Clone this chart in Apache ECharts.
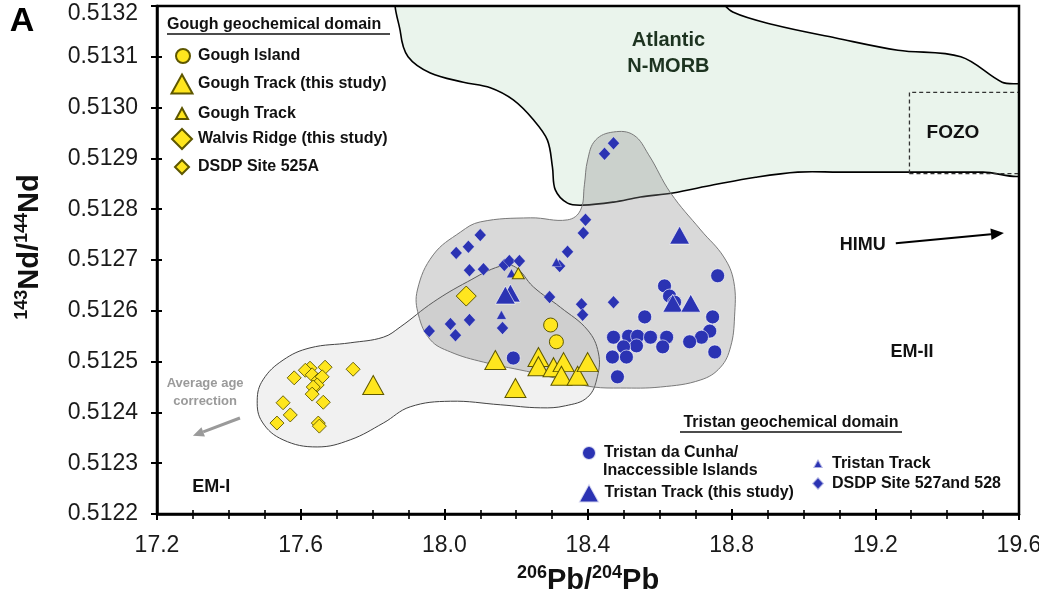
<!DOCTYPE html>
<html><head><meta charset="utf-8">
<script src="https://cdn.jsdelivr.net/npm/echarts@6/dist/echarts.min.js"></script>
<style>html,body{margin:0;padding:0;background:#fff}#c{width:1039px;height:604px}</style>
</head><body><div id="c"></div>
<script>
const FONT = "'Liberation Sans', Arial, Helvetica, sans-serif";

// ---------- data (206Pb/204Pb, 143Nd/144Nd) ----------
const goughIsland = [[18.296,0.512572],[18.312,0.512539]];
const goughTrackThisStudy = [[17.802,0.512454],[18.142,0.512503],[18.198,0.512448],[18.262,0.512509],[18.262,0.512491],
  [18.304,0.512489],[18.332,0.512499],[18.326,0.512472],[18.371,0.512472],[18.399,0.512499]];
const goughTrack = [[18.206,0.512674]];
const walvisRidgeThisStudy = [[18.061,0.512629]];
const dsdp525A = [[17.626,0.512487],[17.613,0.512483],[17.668,0.512489],[17.746,0.512485],[17.582,0.512468],
  [17.632,0.512474],[17.649,0.512464],[17.660,0.512470],[17.646,0.512454],[17.635,0.512450],[17.632,0.512436],
  [17.663,0.512420],[17.551,0.512419],[17.571,0.512395],[17.534,0.512379],[17.649,0.512379],[17.652,0.512373]];
const tristanIslands = [[18.761,0.512669],[18.613,0.512649],[18.627,0.512629],[18.641,0.512617],[18.558,0.512588],
  [18.747,0.512588],[18.739,0.512560],[18.716,0.512548],[18.683,0.512539],[18.753,0.512519],[18.471,0.512548],
  [18.513,0.512550],[18.538,0.512550],[18.535,0.512531],[18.499,0.512529],[18.468,0.512509],[18.507,0.512509],
  [18.574,0.512548],[18.619,0.512548],[18.608,0.512529],[18.482,0.512470],[18.192,0.512507]];
const tristanTrackThisStudy = [[18.655,0.512749],[18.636,0.512615],[18.686,0.512615],[18.184,0.512635],[18.170,0.512631]];
const tristanTrack = [[18.187,0.512674],[18.159,0.512592],[18.312,0.512696]];
const dsdp527528 = [[18.100,0.512749],[18.067,0.512726],[18.033,0.512714],[18.070,0.512680],[18.109,0.512682],
  [18.167,0.512690],[18.181,0.512698],[18.209,0.512698],[18.343,0.512716],[18.321,0.512688],[18.387,0.512753],
  [18.393,0.512779],[18.293,0.512627],[18.382,0.512613],[18.385,0.512592],[18.471,0.512617],[18.070,0.512582],
  [18.017,0.512574],[18.031,0.512552],[17.958,0.512560],[18.162,0.512566],[18.446,0.512909],[18.471,0.512930]];

// field outlines
const morbField = [[17.878,0.51322],[17.878,0.513147],[17.899,0.513100],[17.961,0.513068],[18.053,0.513050],
  [18.128,0.513039],[18.192,0.513015],[18.248,0.512976],[18.287,0.512936],[18.301,0.512883],[18.309,0.512838],
  [18.343,0.512812],[18.387,0.512808],[18.471,0.512814],[18.546,0.512824],[18.636,0.512832],[18.750,0.512848],
  [18.867,0.512863],[18.984,0.512873],[19.098,0.512873],[19.305,0.512873],[19.50,0.512873],[19.62,0.512873],
  [19.62,0.513039],[19.553,0.513050],[19.438,0.513100],[19.263,0.513113],[19.090,0.513137],[18.917,0.513163],
  [18.803,0.513188],[18.744,0.51322]];
const tristanField = [[18.471,0.512952],[18.527,0.512946],[18.569,0.512907],[18.630,0.512832],[18.714,0.512759],
  [18.778,0.512706],[18.806,0.512657],[18.808,0.512588],[18.797,0.512529],[18.769,0.512489],[18.714,0.512464],
  [18.602,0.512450],[18.491,0.512448],[18.415,0.512450],[18.351,0.512460],[18.248,0.512478],[18.109,0.512499],
  [18.017,0.512519],[17.961,0.512543],[17.928,0.512592],[17.925,0.512641],[17.969,0.512710],[18.045,0.512755],
  [18.100,0.512775],[18.240,0.512783],[18.343,0.512779],[18.379,0.512798],[18.390,0.512848],[18.399,0.512897],
  [18.421,0.512936]];
const goughField = [[17.479,0.512424],[17.495,0.512464],[17.551,0.512503],[17.626,0.512527],[17.738,0.512537],
  [17.830,0.512548],[17.877,0.512568],[17.969,0.512617],[18.064,0.512657],[18.156,0.512688],[18.198,0.512686],
  [18.248,0.512647],[18.323,0.512607],[18.399,0.512562],[18.429,0.512517],[18.426,0.512470],[18.399,0.512430],
  [18.337,0.512413],[18.268,0.512409],[18.156,0.512415],[18.017,0.512422],[17.905,0.512411],[17.830,0.512379],
  [17.738,0.512346],[17.646,0.512332],[17.551,0.512346],[17.493,0.512381]];
const fozoBox = [[19.295,0.51287],[19.62,0.51287],[19.62,0.51303],[19.295,0.51303]];

// annotations (data coordinates)
const himuArrow = [[19.257,0.512733],[19.558,0.512753]];
const ageArrow = [[17.431,0.512389],[17.300,0.512354]];
const labels = [
  {text:'Atlantic\nN-MORB', at:[18.624,0.513107], size:20, color:'#1d3320', lh:26},
  {text:'FOZO', at:[19.416,0.512950], size:19, color:'#111'},
  {text:'HIMU', at:[19.165,0.512730], size:18, color:'#111'},
  {text:'EM-II', at:[19.302,0.512519], size:18, color:'#111'},
  {text:'EM-I', at:[17.351,0.512253], size:18, color:'#111'},
  {text:'Average age\ncorrection', at:[17.334,0.512440], size:13, color:'#9a9a9a', lh:18}
];
const xTicks = {min:17.2, max:19.6, step:0.4};
const yTicks = {min:0.5122, max:0.5132, step:0.0001};

const YEL = '#ffe61e', YEL_B = '#5e5700', BLU = '#2b33b3';

function region(name, pts, style, smooth) {
  return {type:'custom', name, coordinateSystem:'cartesian2d', clip:true, silent:true,
    data: pts, encode:{x:0, y:1}, z:1,
    renderItem: (params, api) => {
      if (params.dataIndex !== 0) return null;
      return {type:'polygon', shape:{points: pts.map(p => api.coord(p)), smooth: smooth}, style: style};
    }};
}
function scat(name, data, symbol, size, color, border, bw) {
  return {type:'scatter', name, data, symbol, symbolSize:size, z:5,
    itemStyle:{color, borderColor:border, borderWidth:bw, opacity:1}, emphasis:{disabled:true}};
}

const series = [
  region('morb', morbField, {fill:'#eaf4ec', stroke:'#000', lineWidth:1.6}, 0.35),
  region('gough', goughField, {fill:'#f1f1f1', stroke:'#444', lineWidth:1}, 0.4),
  region('tristan', tristanField, {fill:'rgba(140,140,140,0.33)', stroke:'#7a7a7a', lineWidth:1}, 0.4),
  region('fozo', fozoBox, {fill:'none', stroke:'#333', lineWidth:1.3, lineDash:[4,3]}, 0),
  scat('DSDP Site 527and 528', dsdp527528, 'diamond', [12,13], BLU, 'rgba(255,255,255,0.6)', 0.6),
  scat('Tristan da Cunha/ Inaccessible Islands', tristanIslands, 'circle', 14, BLU, 'rgba(255,255,255,0.8)', 0.8),
  scat('Tristan Track', tristanTrack, 'triangle', [10,9], BLU, 'rgba(255,255,255,0.6)', 0.6),
  scat('Tristan Track (this study)', tristanTrackThisStudy, 'triangle', [20,18], BLU, 'rgba(255,255,255,0.8)', 0.8),
  scat('DSDP Site 525A', dsdp525A, 'diamond', [14,14], YEL, YEL_B, 0.9),
  scat('Walvis Ridge (this study)', walvisRidgeThisStudy, 'diamond', [20,20], YEL, YEL_B, 1),
  scat('Gough Island', goughIsland, 'circle', 14, YEL, YEL_B, 1),
  scat('Gough Track', goughTrack, 'triangle', [12,11], YEL, YEL_B, 1),
  scat('Gough Track (this study)', goughTrackThisStudy, 'triangle', [21,19], YEL, YEL_B, 1)
];

// legend layout: [series name, icon centre x, centre y, icon w, icon h, text start x]
const legendItems = [
  ['Gough Island', 182, 55, 14, 14, 197],
  ['Gough Track (this study)', 181, 83, 21, 19, 197],
  ['Gough Track', 181, 111, 12, 11, 197],
  ['Walvis Ridge (this study)', 181, 138, 20, 20, 197],
  ['DSDP Site 525A', 181, 166, 14, 14, 197],
  ['Tristan da Cunha/ Inaccessible Islands', 588, 452, 14, 14, 603],
  ['Tristan Track (this study)', 588, 492, 21, 19, 603],
  ['Tristan Track', 817, 460, 10, 9, 831],
  ['DSDP Site 527and 528', 817, 482, 12, 13, 831]
];
const legends = legendItems.map(([name, cx, cy, w, h, tx]) => ({
  show:true, orient:'vertical', left: cx - w/2, top: cy - h/2, padding:0, itemGap:0,
  itemWidth:w, itemHeight:h, selectedMode:false, data:[name],
  formatter: n => n === 'Tristan da Cunha/ Inaccessible Islands' ? 'Tristan da Cunha/' : n,
  textStyle:{fontFamily:FONT, fontSize:16, fontWeight:'bold', color:'#111',
    padding:[0,0,0, Math.max(0, tx - (cx + w/2) - 5)]}
}));

const titleRich = {
  b:{fontFamily:FONT, fontSize:29, fontWeight:'bold', color:'#111', lineHeight:34},
  s:{fontFamily:FONT, fontSize:18, fontWeight:'bold', color:'#111', verticalAlign:'top', lineHeight:34}
};
const axisCommon = {type:'value', splitLine:{show:false}};
const option = {
  animation:false,
  backgroundColor:'#fff',
  grid:{left:157, right:20, top:6, bottom:90, containLabel:false, outerBoundsMode:'none'},
  legend: legends,
  xAxis:[
    Object.assign({}, axisCommon, {min:xTicks.min, max:xTicks.max, interval:xTicks.step, position:'bottom',
      axisLine:{show:true, onZero:false, lineStyle:{color:'#000', width:2.5}},
      axisTick:{show:true, length:6, lineStyle:{color:'#000', width:2}},
      minorTick:{show:true, splitNumber:4, length:5, lineStyle:{color:'#000', width:1.6}},
      axisLabel:{fontFamily:FONT, fontSize:23, color:'#1a1a1a', margin:20, formatter:v => v.toFixed(1)},
      name:'{s|206}{b|Pb/}{s|204}{b|Pb}', nameLocation:'middle', nameGap:50,
      nameTextStyle:{rich:titleRich}
    }),
    Object.assign({}, axisCommon, {min:xTicks.min, max:xTicks.max, interval:xTicks.step, position:'bottom',
      axisLine:{show:false, onZero:false},
      axisTick:{show:true, inside:true, length:5, lineStyle:{color:'#000', width:2}},
      minorTick:{show:true, splitNumber:4, length:4, lineStyle:{color:'#000', width:1.6}},
      axisLabel:{show:false}})
  ],
  yAxis:[
    Object.assign({}, axisCommon, {min:yTicks.min, max:yTicks.max, interval:yTicks.step, position:'left',
      axisLine:{show:true, onZero:false, lineStyle:{color:'#000', width:2.5}},
      axisTick:{show:true, length:6, lineStyle:{color:'#000', width:2}},
      axisLabel:{fontFamily:FONT, fontSize:23, color:'#1a1a1a', margin:19,
        formatter:v => Math.abs(v - yTicks.max) < 1e-9 ? '{t|' + v.toFixed(4) + '}' : v.toFixed(4),
        rich:{t:{fontFamily:FONT, fontSize:23, color:'#1a1a1a', padding:[16,0,0,0]}}},
      name:'{s|143}{b|Nd/}{s|144}{b|Nd}', nameLocation:'middle', nameGap:110, nameRotate:90,
      nameTextStyle:{rich:titleRich, padding:[0,0,0,26]}
    }),
    Object.assign({}, axisCommon, {min:yTicks.min, max:yTicks.max, interval:yTicks.step, position:'left',
      axisLine:{show:false, onZero:false},
      axisTick:{show:true, inside:true, length:5, lineStyle:{color:'#000', width:2}},
      axisLabel:{show:false}})
  ],
  series: series.map(s => Object.assign(s, {xAxisIndex:0, yAxisIndex:0}))
};

const chart = echarts.init(document.getElementById('c'), null, {renderer:'canvas', width:1039, height:604});
chart.setOption(option);

// ---------- annotations placed through the axes ----------
const px = p => chart.convertToPixel({gridIndex:0}, p);
function arrow(a, b, color, width, head) {
  const p0 = px(a), p1 = px(b);
  const dx = p1[0]-p0[0], dy = p1[1]-p0[1], L = Math.hypot(dx, dy), ux = dx/L, uy = dy/L;
  const base = [p1[0]-ux*head, p1[1]-uy*head];
  const hw = head*0.45;
  return [
    {type:'line', z:50, shape:{x1:p0[0], y1:p0[1], x2:base[0], y2:base[1]}, style:{stroke:color, lineWidth:width}},
    {type:'polygon', z:50, shape:{points:[p1, [base[0]-uy*hw, base[1]+ux*hw], [base[0]+uy*hw, base[1]-ux*hw]]}, style:{fill:color}}
  ];
}
const tl = px([xTicks.min, yTicks.max]), br = px([xTicks.max, yTicks.min]);
const graphics = [
  {type:'rect', z:60, shape:{x:tl[0], y:tl[1], width:br[0]-tl[0], height:br[1]-tl[1]}, style:{fill:'none', stroke:'#000', lineWidth:2.5}},
  {type:'text', z:60, x:22, y:22, style:{text:'A', fontFamily:FONT, fontSize:34, fontWeight:'bold', fill:'#000', align:'center', verticalAlign:'middle'}},
  {type:'text', z:60, x:167, y:25, style:{text:'Gough geochemical domain', fontFamily:FONT, fontSize:16, fontWeight:'bold', fill:'#111', align:'left', verticalAlign:'middle'}},
  {type:'line', z:60, shape:{x1:167, y1:34, x2:390, y2:34}, style:{stroke:'#111', lineWidth:1.3}},
  {type:'text', z:60, x:791, y:423, style:{text:'Tristan geochemical domain', fontFamily:FONT, fontSize:16, fontWeight:'bold', fill:'#111', align:'center', verticalAlign:'middle'}},
  {type:'line', z:60, shape:{x1:680, y1:432, x2:902, y2:432}, style:{stroke:'#111', lineWidth:1.3}},
  {type:'text', z:60, x:603, y:471, style:{text:'Inaccessible Islands', fontFamily:FONT, fontSize:16, fontWeight:'bold', fill:'#111', align:'left', verticalAlign:'middle'}}
];
labels.forEach(l => {
  const p = px(l.at);
  graphics.push({type:'text', z:55, x:p[0], y:p[1], style:{text:l.text, fontFamily:FONT, fontSize:l.size, fontWeight:'bold',
    fill:l.color, align:'center', verticalAlign:'middle', lineHeight:l.lh || l.size+4}});
});
graphics.push(...arrow(himuArrow[0], himuArrow[1], '#000', 2, 13));
graphics.push(...arrow(ageArrow[0], ageArrow[1], '#9a9a9a', 3, 11));
chart.setOption({graphic: graphics});
</script></body></html>
